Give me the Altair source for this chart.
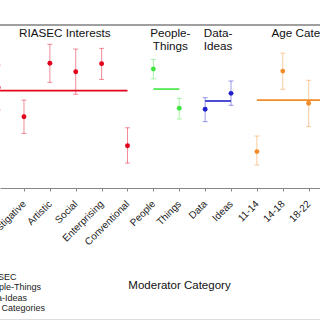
import json
import altair as alt
import pandas as pd

# ---- data ----
CATEGORIES = ["Realistic", "Investigative", "Artistic", "Social", "Enterprising",
              "Conventional", "People", "Things", "Data", "Ideas",
              "11-14", "14-18", "18-22", "22+\n(Long Interval)"]
GROUP_OF = ["RIASEC"] * 6 + ["People-Things"] * 2 + ["Data-Ideas"] * 2 + ["Age Categories"] * 4
EFFECT = [0.300, 0.170, 0.408, 0.370, 0.406, 0.041, 0.382, 0.208, 0.203, 0.274, 0.015, 0.373, 0.230, 0.300]
CI_LOW = [0.200, 0.096, 0.323, 0.270, 0.336, -0.036, 0.338, 0.160, 0.148, 0.221, -0.044, 0.292, 0.126, 0.200]
CI_HIGH = [0.400, 0.244, 0.492, 0.471, 0.474, 0.121, 0.425, 0.252, 0.255, 0.329, 0.084, 0.453, 0.332, 0.400]

GROUPS = ["RIASEC", "People-Things", "Data-Ideas", "Age Categories"]
GROUP_TITLES = ["RIASEC Interests", "People-\nThings", "Data-\nIdeas", "Age Categories"]
GROUP_MEAN = [0.286, 0.293, 0.240, 0.244]
COLORS = ["#e3001b", "#3fe63f", "#2020cc", "#f28c28"]

# ---- scale / style settings ----
X_DOMAIN = [0.0734, 12.4382]
Y_DOMAIN = [-0.1467, 0.5778]
TITLE_DX = [2, 4, 0, 16]
FONT = "Liberation Sans"

idx = list(range(len(CATEGORIES)))
df = pd.DataFrame({"idx": idx, "cat": CATEGORIES, "group": GROUP_OF,
                   "effect": EFFECT, "lo": CI_LOW, "hi": CI_HIGH})

g_start, g_end = [], []
for g in GROUPS:
    members = [i for i, gg in zip(idx, GROUP_OF) if gg == g]
    g_start.append(min(members))
    g_end.append(max(members))
gdf = pd.DataFrame({"group": GROUPS, "title": GROUP_TITLES, "x0": g_start,
                    "x1": g_end, "mean": GROUP_MEAN,
                    "center": [(a + b) / 2 for a, b in zip(g_start, g_end)]})

label_arr = json.dumps([c.split("\n") if "\n" in c else c for c in CATEGORIES])

xscale = alt.Scale(domain=X_DOMAIN, nice=False, zero=False)
yscale = alt.Scale(domain=Y_DOMAIN, nice=False, zero=False)
cscale = alt.Scale(domain=GROUPS, range=COLORS)

x_axis = alt.Axis(values=idx, tickCount=40, labelExpr=f"{label_arr}[datum.value]",
                  labelAngle=-45, labelAlign="right", labelBaseline="middle",
                  labelFontSize=10, labelColor="#222", labelPadding=11,
                  labelOverlap=False, labelBound=False, labelFlush=False,
                  domainColor="#888", tickColor="#888", tickSize=3, grid=False,
                  title="Moderator Category", titleFontSize=11.5,
                  titleFontWeight="normal", titleColor="#111",
                  titleX=179, titleY=97, titleAlign="center", titleBaseline="middle")

base = alt.Chart(df)
nolegend = alt.Color("group:N", scale=cscale, legend=None)

err = base.mark_rule(strokeWidth=1, opacity=0.45).encode(
    x=alt.X("idx:Q", scale=xscale, axis=x_axis),
    y=alt.Y("lo:Q", scale=yscale, axis=None),
    y2="hi:Q",
    color=nolegend)

cap_lo = base.mark_tick(orient="horizontal", size=5, thickness=1, opacity=0.45).encode(
    x="idx:Q", y="lo:Q", color=nolegend)
cap_hi = base.mark_tick(orient="horizontal", size=5, thickness=1, opacity=0.45).encode(
    x="idx:Q", y="hi:Q", color=nolegend)

means = alt.Chart(gdf).mark_rule(strokeWidth=1.6).encode(
    x="x0:Q", x2="x1:Q", y="mean:Q", color=nolegend)

points = base.mark_point(filled=True, size=24, opacity=1).encode(
    x="idx:Q", y="effect:Q",
    color=alt.Color("group:N", scale=cscale,
                    legend=alt.Legend(orient="none", legendX=-30, legendY=247.5,
                                      title=None, labelFontSize=9, labelColor="#222",
                                      symbolSize=20, symbolType="circle",
                                      rowPadding=0.4, labelOffset=4, padding=0)))

# frame lines: top of the plot area and bottom of the figure
top_border = alt.Chart(gdf).mark_rule(color="#999", strokeWidth=1).encode(
    y=alt.value(0))
bottom_frame = alt.Chart(gdf).mark_rule(color="#ddd", strokeWidth=1).encode(
    y=alt.value(294.5))

layers = [top_border, bottom_frame, err, cap_lo, cap_hi, means, points]
for i, t in enumerate(GROUP_TITLES):
    sub = gdf.iloc[[i]]
    layers.append(alt.Chart(sub).mark_text(
        align="center", baseline="top", dy=3, dx=TITLE_DX[i], fontSize=11.7,
        lineBreak="\n", lineHeight=12.5, color="#111", font=FONT).encode(
        x="center:Q", y=alt.value(0), text="title:N"))

chart = alt.layer(*layers).resolve_legend(color="independent").properties(
    width=320, height=163,
    autosize=alt.AutoSizeParams(type="none"),
    padding={"left": 0, "top": 25, "right": 0, "bottom": 132},
).configure(font=FONT, view={"stroke": None},
            axis={"labelOverlap": False, "labelSeparation": 0})

chart.save("out.html", embed_options={"renderer": "svg", "actions": False})
